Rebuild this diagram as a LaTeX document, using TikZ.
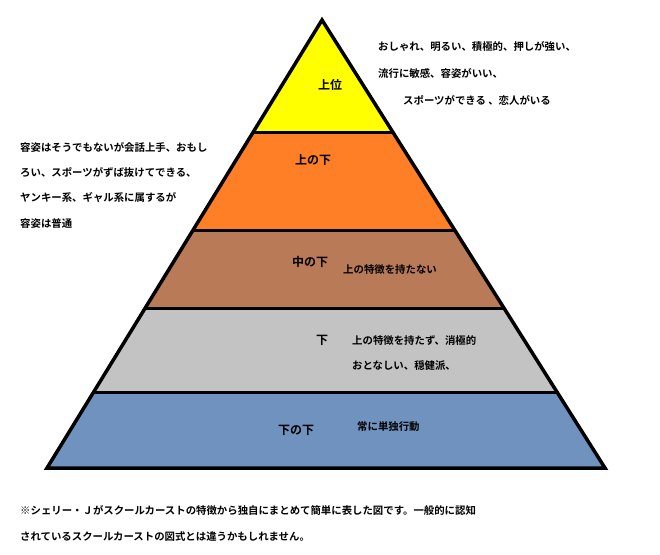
\documentclass[tikz,border=0pt]{standalone}
\usepackage{fontspec}
\newfontfamily\jp{Noto Sans CJK JP}[BoldFont={Noto Sans CJK JP Bold}]
\definecolor{cy}{HTML}{FFFF00}
\definecolor{co}{HTML}{FF7F27}
\definecolor{cb}{HTML}{B97A57}
\definecolor{cg}{HTML}{C3C3C3}
\definecolor{cl}{HTML}{7092BE}
\begin{document}
\begin{tikzpicture}[x=1pt,y=-1pt,
  lbl/.style={font=\jp\bfseries\fontsize{12}{14}\selectfont,inner sep=0pt},
  txt/.style={font=\jp\bfseries\fontsize{10.4}{12}\selectfont,inner sep=0pt,anchor=west}]
\useasboundingbox[fill=white] (0,0) rectangle (660,554);
\coordinate (A) at (322,20);
\coordinate (L) at (47,468);
\coordinate (R) at (605,468);
\begin{scope}
\clip (A) -- (L) -- (R) -- cycle;
\fill[cy] (0,0) rectangle (660,132);
\fill[co] (0,132) rectangle (660,230);
\fill[cb] (0,230) rectangle (660,308);
\fill[cg] (0,308) rectangle (660,392);
\fill[cl] (0,392) rectangle (660,470);
\foreach \y in {132,230,308,392} \draw[line width=3pt] (0,\y) -- (660,\y);
\end{scope}
\draw[line width=3.5pt,line join=miter] (A) -- (L) -- (R) -- cycle;
\node[lbl] (t1) at (330,85) {上位};
\node[lbl] (t2) at (313,160) {上の下};
\node[lbl] (t3) at (310,262) {中の下};
\node[lbl] (t4) at (322,340) {下};
\node[lbl] (t5) at (296,430) {下の下};
\node[txt] (r1) at (378,47) {おしゃれ、明るい、積極的、押しが強い、};
\node[txt] (r2) at (378,73) {流行に敏感、容姿がいい、};
\node[txt] (r3) at (403,100) {スポーツができる 、恋人がいる};
\node[txt] (l1) at (20,147) {容姿はそうでもないが会話上手、おもし};
\node[txt] (l2) at (20,172) {ろい、スポーツがずば抜けてできる、};
\node[txt] (l3) at (20,198) {ヤンキー系、ギャル系に属するが};
\node[txt] (l4) at (20,224) {容姿は普通};
\node[txt] (m1) at (343,270) {上の特徴を持たない};
\node[txt] (g1) at (352,341) {上の特徴を持たず、消極的};
\node[txt] (g2) at (352,366) {おとなしい、穏健派、};
\node[txt] (b1) at (357,427) {常に単独行動};
\node[txt] (f1) at (20,510) {※シェリー・Ｊがスクールカーストの特徴から独自にまとめて簡単に表した図です。一般的に認知};
\node[txt] (f2) at (20,537) {されているスクールカーストの図式とは違うかもしれません。};
\end{tikzpicture}
\end{document}
